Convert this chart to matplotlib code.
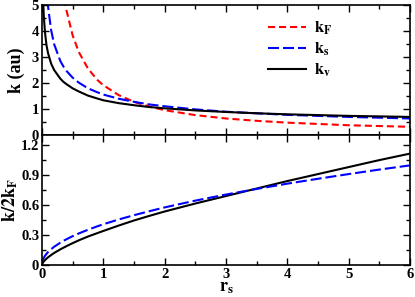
import numpy as np
import matplotlib
matplotlib.use('Agg')
import matplotlib.pyplot as plt
from matplotlib.ticker import MultipleLocator, FixedLocator, FixedFormatter

plt.rcParams['font.family'] = ['Liberation Serif', 'DejaVu Serif']
plt.rcParams['font.weight'] = 'bold'
plt.rcParams['mathtext.fontset'] = 'stix'

rs = [0.01, 0.02, 0.03, 0.05, 0.075, 0.1, 0.15, 0.2, 0.3, 0.35, 0.4, 0.5, 0.6,
      0.75, 0.9, 1.0, 1.25, 1.5, 1.75, 2.0, 2.5, 3.0, 3.5, 4.0, 4.5, 5.0, 5.5, 6.0]

# top panel: k (au)
k_F = [191.9, 95.95, 63.97, 38.38, 25.59, 19.19, 12.79, 9.60, 6.40, 5.48, 4.80,
       3.84, 3.20, 2.56, 2.13, 1.92, 1.54, 1.28, 1.10, 0.96, 0.77, 0.64, 0.55,
       0.48, 0.43, 0.38, 0.35, 0.32]
k_s = [15.63, 11.05, 9.02, 6.99, 5.71, 4.94, 4.04, 3.49, 2.85, 2.64, 2.47, 2.21,
       2.02, 1.80, 1.65, 1.56, 1.40, 1.28, 1.18, 1.11, 0.99, 0.90, 0.84, 0.78,
       0.74, 0.70, 0.67, 0.64]
k_v = [6.5, 5.2, 4.6, 3.95, 3.45, 3.15, 2.75, 2.50, 2.17, 2.05, 1.96, 1.80, 1.68,
       1.52, 1.41, 1.34, 1.23, 1.15, 1.08, 1.03, 0.95, 0.89, 0.84, 0.80, 0.77,
       0.74, 0.72, 0.70]

# bottom panel: k/2k_F
q_s = [0.041, 0.058, 0.070, 0.091, 0.111, 0.129, 0.158, 0.182, 0.223, 0.241,
       0.257, 0.288, 0.315, 0.352, 0.386, 0.407, 0.455, 0.498, 0.538, 0.576,
       0.644, 0.705, 0.761, 0.814, 0.863, 0.910, 0.955, 0.997]
q_v = [0.016, 0.026, 0.034, 0.048, 0.063, 0.076, 0.099, 0.12, 0.156, 0.172,
       0.188, 0.218, 0.246, 0.284, 0.318, 0.34, 0.394, 0.445, 0.491, 0.535,
       0.615, 0.69, 0.765, 0.84, 0.91, 0.98, 1.05, 1.115]

fig = plt.figure(figsize=(4.15, 2.97), dpi=100)
ax1 = fig.add_axes([0.101, 0.545, 0.887, 0.438])
ax2 = fig.add_axes([0.101, 0.108, 0.887, 0.437])

lw = 1.5
ax1.plot(rs, k_F, color='red', lw=lw, dashes=(3.4, 1.9), label=r'$\mathbf{k}_{\mathbf{F}}$')
ax1.plot(rs, k_s, color='blue', lw=lw, dashes=(5.3, 1.9), label=r'$\mathbf{k}_{\mathbf{s}}$')
ax1.plot(rs, k_v, color='black', lw=lw, label=r'$\mathbf{k}_{\mathbf{v}}$')

ax2.plot(rs, q_v, color='black', lw=lw)
ax2.plot(rs, q_s, color='blue', lw=lw, dashes=(5.3, 1.9))

for ax in (ax1, ax2):
    ax.set_xlim(0, 6)
    ax.xaxis.set_major_locator(MultipleLocator(1))
    ax.xaxis.set_minor_locator(MultipleLocator(0.5))
    ax.tick_params(which='both', direction='in', top=True, right=True,
                   labelsize=10.5, width=1, pad=2)
    ax.tick_params(which='major', length=5)
    ax.tick_params(which='minor', length=3)
    for s in ax.spines.values():
        s.set_linewidth(1.2)

ax1.set_ylim(0, 5)
ax1.yaxis.set_major_locator(MultipleLocator(1))
ax1.yaxis.set_minor_locator(MultipleLocator(0.5))
ax1.tick_params(labelbottom=False)
ax1.set_ylabel('k (au)', fontsize=13, fontweight='bold')
ax1.yaxis.set_label_coords(-0.045, 0.5)

ax2.set_ylim(0, 1.3)
ax2.yaxis.set_major_locator(FixedLocator([0, 0.3, 0.6, 0.9, 1.2]))
ax2.yaxis.set_major_formatter(FixedFormatter(['0', '0.3', '0.6', '0.9', '1.2']))
ax2.yaxis.set_minor_locator(MultipleLocator(0.15))
ax2.set_ylabel(r'$\mathbf{k/2k}_{\mathbf{F}}$', fontsize=13)
ax2.yaxis.set_label_coords(-0.06, 0.5)
ax2.set_xlabel(r'$\mathbf{r}_{\mathbf{s}}$', fontsize=13, labelpad=-1)

ax1.legend(loc='upper left', bbox_to_anchor=(0.613, 0.885), frameon=False,
           fontsize=12, handlelength=2.3, labelspacing=0.2, borderpad=0,
           borderaxespad=0, handletextpad=0.5)

fig.savefig('out.png', dpi=100)
